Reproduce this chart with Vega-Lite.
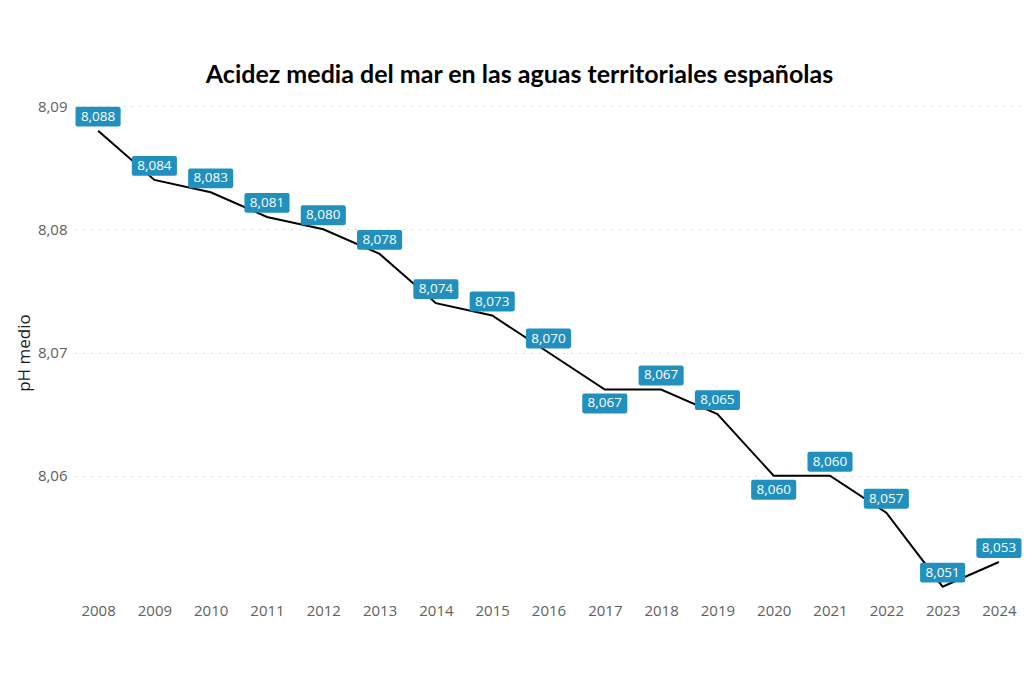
{
  "$schema": "https://vega.github.io/schema/vega-lite/v6.json",
  "autosize": {"type": "none"},
  "width": 947,
  "height": 493,
  "padding": {"left": 75, "top": 106, "right": 10, "bottom": 99},
  "background": "white",
  "config": {
    "locale": {"number": {"decimal": ",", "thousands": ".", "grouping": [3], "currency": ["", " €"]}},
    "view": {"stroke": null},
    "font": "Open Sans"
  },
  "title": {
    "text": "Acidez media del mar en las aguas territoriales españolas",
    "font": "Lato",
    "fontSize": 25,
    "fontWeight": "bold",
    "color": "#000000",
    "anchor": "middle",
    "offset": 11,
    "dx": -29
  },
  "data": {
    "values": [
      {"year": "2008", "ph": 8.088},
      {"year": "2009", "ph": 8.084},
      {"year": "2010", "ph": 8.083},
      {"year": "2011", "ph": 8.081},
      {"year": "2012", "ph": 8.080},
      {"year": "2013", "ph": 8.078},
      {"year": "2014", "ph": 8.074},
      {"year": "2015", "ph": 8.073},
      {"year": "2016", "ph": 8.070},
      {"year": "2017", "ph": 8.067},
      {"year": "2018", "ph": 8.067},
      {"year": "2019", "ph": 8.065},
      {"year": "2020", "ph": 8.060},
      {"year": "2021", "ph": 8.060},
      {"year": "2022", "ph": 8.057},
      {"year": "2023", "ph": 8.051},
      {"year": "2024", "ph": 8.053}
    ]
  },
  "encoding": {
    "x": {
      "field": "year",
      "type": "ordinal",
      "scale": {"type": "point", "padding": 0.41},
      "axis": {
        "title": null,
        "labelAngle": 0,
        "labelFontSize": 15,
        "labelColor": "#606060",
        "labelFont": "Open Sans",
        "domain": false,
        "ticks": false,
        "labelPadding": 4
      }
    },
    "y": {
      "field": "ph",
      "type": "quantitative",
      "scale": {"domain": [8.05, 8.09], "zero": false, "nice": false},
      "axis": {
        "title": "pH medio",
        "titleFont": "Open Sans",
        "titleFontSize": 17,
        "titleFontWeight": "normal",
        "titleColor": "#1a1a1a",
        "titlePadding": 4,
        "values": [8.06, 8.07, 8.08, 8.09],
        "format": ".2f",
        "labelFontSize": 15,
        "labelColor": "#606060",
        "labelFont": "Open Sans",
        "labelPadding": 8,
        "domain": false,
        "ticks": false,
        "gridColor": "#d0d0d0",
        "gridDash": [1.5, 6.5],
        "gridWidth": 1
      }
    }
  },
  "layer": [
    {
      "mark": {"type": "line", "color": "#000000", "strokeWidth": 2}
    },
    {
      "transform": [{"filter": "datum.year != '2017' && datum.year != '2020'"}],
      "mark": {
        "type": "point",
        "filled": true,
        "opacity": 1,
        "color": "#2190BE",
        "size": 484,
        "yOffset": -14,
        "shape": "M-1.86,-0.9 L1.86,-0.9 Q2.05,-0.9 2.05,-0.71 L2.05,0.71 Q2.05,0.9 1.86,0.9 L-1.86,0.9 Q-2.05,0.9 -2.05,0.71 L-2.05,-0.71 Q-2.05,-0.9 -1.86,-0.9 Z"
      }
    },
    {
      "transform": [{"filter": "datum.year == '2017' || datum.year == '2020'"}],
      "mark": {
        "type": "point",
        "filled": true,
        "opacity": 1,
        "color": "#2190BE",
        "size": 484,
        "yOffset": 14,
        "shape": "M-1.86,-0.9 L1.86,-0.9 Q2.05,-0.9 2.05,-0.71 L2.05,0.71 Q2.05,0.9 1.86,0.9 L-1.86,0.9 Q-2.05,0.9 -2.05,0.71 L-2.05,-0.71 Q-2.05,-0.9 -1.86,-0.9 Z"
      }
    },
    {
      "transform": [{"filter": "datum.year != '2017' && datum.year != '2020'"}],
      "mark": {"type": "text", "color": "#ffffff", "fontSize": 13.5, "font": "Open Sans", "yOffset": -14, "baseline": "middle"},
      "encoding": {"text": {"field": "ph", "type": "quantitative", "format": ".3f"}}
    },
    {
      "transform": [{"filter": "datum.year == '2017' || datum.year == '2020'"}],
      "mark": {"type": "text", "color": "#ffffff", "fontSize": 13.5, "font": "Open Sans", "yOffset": 14, "baseline": "middle"},
      "encoding": {"text": {"field": "ph", "type": "quantitative", "format": ".3f"}}
    }
  ]
}
